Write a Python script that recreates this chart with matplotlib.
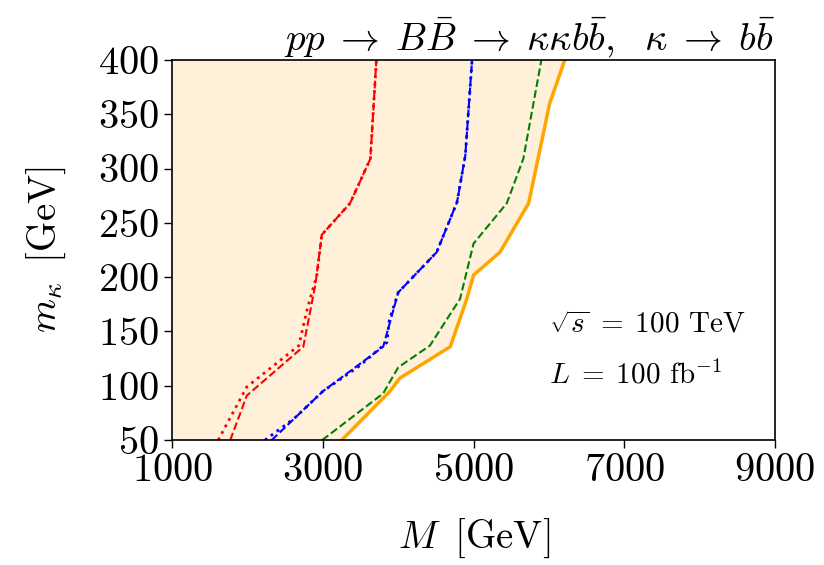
import numpy as np
import matplotlib
matplotlib.use('Agg')
import matplotlib.pyplot as plt

plt.rcParams['font.family'] = 'serif'
plt.rcParams['font.serif'] = ['cmr10']
plt.rcParams['mathtext.fontset'] = 'cm'
plt.rcParams['axes.formatter.use_mathtext'] = True

# exclusion contours, M [GeV] vs m_kappa [GeV]
mk_total = [50, 95, 107, 136, 180, 202, 223, 268, 360, 400]
M_total = [3250, 3890, 4020, 4690, 4910, 5000, 5350, 5730, 6010, 6210]

mk_green = [50, 93, 117, 137, 180, 231, 268, 309, 400]
M_green = [2990, 3800, 4000, 4420, 4820, 5000, 5440, 5660, 5900]

mk_blue = [50, 95, 136, 186, 223, 269, 312, 400]
M_blue = [2320, 3000, 3800, 4000, 4510, 4780, 4890, 4980]

mk_blue_dot = [50, 70, 95, 118, 140, 160, 186, 223, 269, 312, 400]
M_blue_dot = [2230, 2620, 3000, 3480, 3850, 3880, 4000, 4510, 4780, 4890, 4980]

mk_red = [50, 91, 136, 193, 239, 268, 309, 400]
M_red = [1770, 1990, 2740, 2900, 2985, 3360, 3630, 3710]

mk_red_dot = [50, 99, 137, 170, 202, 239, 268, 309, 400]
M_red_dot = [1610, 1990, 2680, 2790, 2920, 2985, 3360, 3630, 3710]

fig = plt.figure(figsize=(8.24, 5.65), dpi=100)
ax = fig.add_axes([0.209, 0.221, 0.7315, 0.673])

ax.fill_betweenx(mk_total, 1000, M_total, color='orange', alpha=0.15, lw=0)
ax.plot(M_total, mk_total, color='orange', lw=2.5)
ax.plot(M_green, mk_green, color='green', ls='--', lw=1.5)
ax.plot(M_blue_dot, mk_blue_dot, color='blue', ls=':', lw=2)
ax.plot(M_blue, mk_blue, color='blue', ls='--', lw=1.5)
ax.plot(M_red_dot, mk_red_dot, color='red', ls=':', lw=2)
ax.plot(M_red, mk_red, color='red', ls='--', lw=1.5)

ax.set_xlim(1000, 9000)
ax.set_ylim(50, 400)
ax.set_xticks([1000, 3000, 5000, 7000, 9000])
ax.set_yticks(np.arange(50, 401, 50))
ax.tick_params(labelsize=29, length=6, width=1)
for sp in ax.spines.values():
    sp.set_linewidth(1.2)

ax.set_xlabel(r'$M\,$ [GeV]', fontsize=28, labelpad=20)
ax.set_ylabel(r'$m_\kappa\,$ [GeV]', fontsize=28, labelpad=22)
ax.set_title(r'$pp \;\to\; B\bar{B} \;\to\; \kappa\kappa b\bar{b},\ \ \kappa \;\to\; b\bar{b}$',
             fontsize=28, loc='right', pad=4)

ax.text(6000, 156, r'$\sqrt{s} \;=\; 100$ TeV', fontsize=21, va='center')
ax.text(6000, 110, r'$L \;=\; 100$ fb$^{-1}$', fontsize=21, va='center')

plt.savefig('out.png', dpi=100)
